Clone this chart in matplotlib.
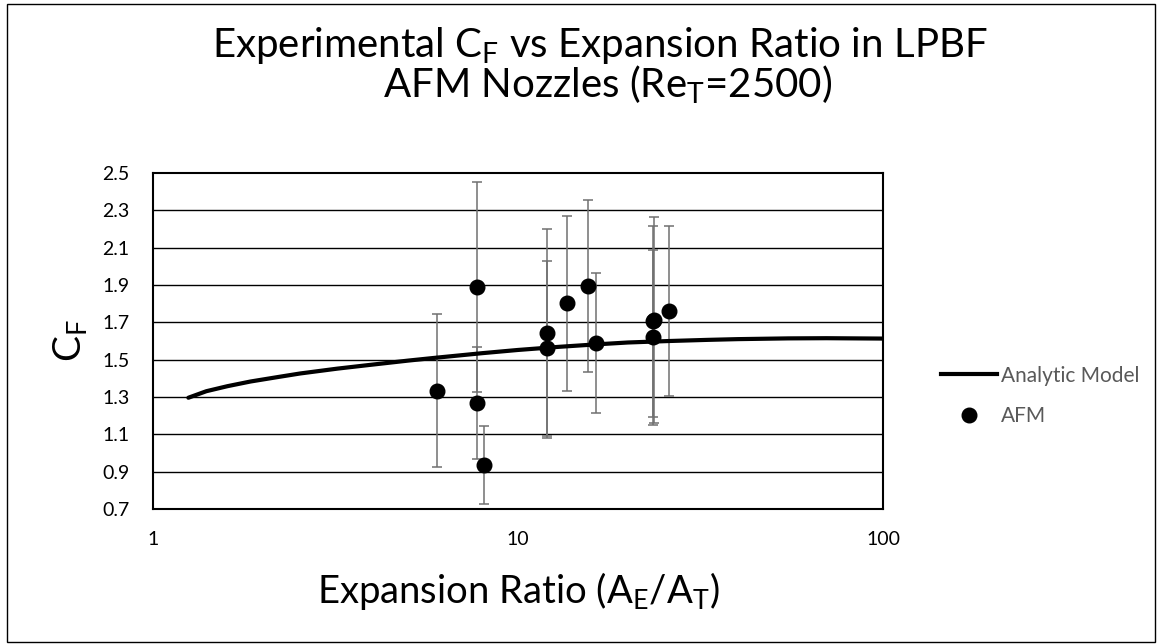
#!/usr/bin/python3
# Thrust coefficient vs expansion ratio, AFM nozzles

import numpy as np
import matplotlib
matplotlib.use('Agg')
import matplotlib.pyplot as plt
from matplotlib.lines import Line2D
from matplotlib.patches import Rectangle

# Analytic model curve
model_ratio = [1.25, 1.4, 1.6, 1.85, 2.2, 2.53, 3.2, 3.93, 5.0, 6.0, 8.0, 10.0,
               13.0, 16.4, 20.0, 26.0, 33.0, 40.0, 55.0, 70.0, 100.0]
model_cf = [1.296, 1.331, 1.358, 1.383, 1.407, 1.426, 1.452, 1.472, 1.495, 1.511, 1.535, 1.552,
            1.569, 1.582, 1.592, 1.600, 1.606, 1.610, 1.614, 1.615, 1.613]

# Measured AFM nozzles
afm_ratio = [6.0, 7.74, 7.74, 8.07, 12.0, 12.0, 13.6, 15.55, 16.4, 23.6, 23.4, 23.5, 26.0]
afm_cf = [1.334, 1.889, 1.268, 0.936, 1.641, 1.561, 1.802, 1.895, 1.591, 1.712, 1.62, 1.705, 1.761]
afm_err = [0.41, 0.564, 0.30, 0.21, 0.56, 0.47, 0.47, 0.46, 0.375, 0.55, 0.47, 0.51, 0.455]

y_ticks = [0.7, 0.9, 1.1, 1.3, 1.5, 1.7, 1.9, 2.1, 2.3, 2.5]
x_ticks = [1, 10, 100]
x_tick_labels = ['1', '10', '100']


def main():
    plt.rcParams['font.family'] = ['Lato', 'DejaVu Sans']
    plt.rcParams['mathtext.fontset'] = 'custom'
    plt.rcParams['mathtext.rm'] = 'Lato'

    W, H = 1162, 644
    fig = plt.figure(figsize=(W / 100, H / 100), dpi=100)
    ax = fig.add_axes([153 / W, 1 - 509 / H, 730 / W, 336 / H])

    # chart area border
    fig.patches.append(Rectangle((7 / W, 2 / H), 1148 / W, 638 / H, transform=fig.transFigure,
                                 fill=False, edgecolor='black', linewidth=1.0))

    for y in y_ticks[1:-1]:
        ax.axhline(y, color='black', linewidth=1.0, zorder=1)

    ax.errorbar(afm_ratio, afm_cf, yerr=afm_err, fmt='none', ecolor='#707070',
                elinewidth=1.1, capsize=3.6, capthick=1.1, zorder=2)
    ax.plot(model_ratio, model_cf, color='black', linewidth=3.0, solid_capstyle='round', zorder=3)
    ax.plot(afm_ratio, afm_cf, 'o', color='black', markersize=10.5, zorder=4)

    ax.set_xscale('log')
    ax.set_xlim(1, 100)
    ax.set_ylim(0.7, 2.5)
    ax.set_xticks(x_ticks)
    ax.set_xticklabels(x_tick_labels)
    ax.xaxis.set_minor_locator(matplotlib.ticker.NullLocator())
    ax.set_yticks(y_ticks)
    ax.set_yticklabels(['%.1f' % v for v in y_ticks])
    ax.tick_params(axis='both', length=0, labelsize=14, colors='black')
    ax.tick_params(axis='x', pad=16)
    ax.tick_params(axis='y', pad=17)
    for s in ax.spines.values():
        s.set_linewidth(1.5)
        s.set_color('black')

    fig.text(600 / W, 1 - 57 / H, r'Experimental C$_\mathregular{F}$ vs Expansion Ratio in LPBF',
             ha='center', va='baseline', fontsize=29)
    fig.text(608 / W, 1 - 97 / H, r'AFM Nozzles (Re$_\mathregular{T}$=2500)',
             ha='center', va='baseline', fontsize=29)
    fig.text(518 / W, 1 - 603 / H, r'Expansion Ratio (A$_\mathregular{E}$/A$_\mathregular{T}$)',
             ha='center', va='baseline', fontsize=27.5)
    fig.text(71 / W, 1 - 341 / H, r'C$_\mathregular{F}$', ha='center', va='center',
             rotation=90, fontsize=28)

    handles = [Line2D([], [], color='black', linewidth=3.0),
               Line2D([], [], color='black', marker='o', linestyle='none', markersize=10.5)]
    ax.legend(handles, ['Analytic Model', 'AFM'], loc='center left',
              bbox_to_anchor=(941 / W, 1 - 396 / H), bbox_transform=fig.transFigure,
              frameon=False, fontsize=15, labelcolor='#595959', handlelength=2.7,
              handletextpad=0.2, labelspacing=1.0, borderpad=0, borderaxespad=0)

    fig.savefig('out.png', dpi=100)


if __name__ == "__main__":
    main()
